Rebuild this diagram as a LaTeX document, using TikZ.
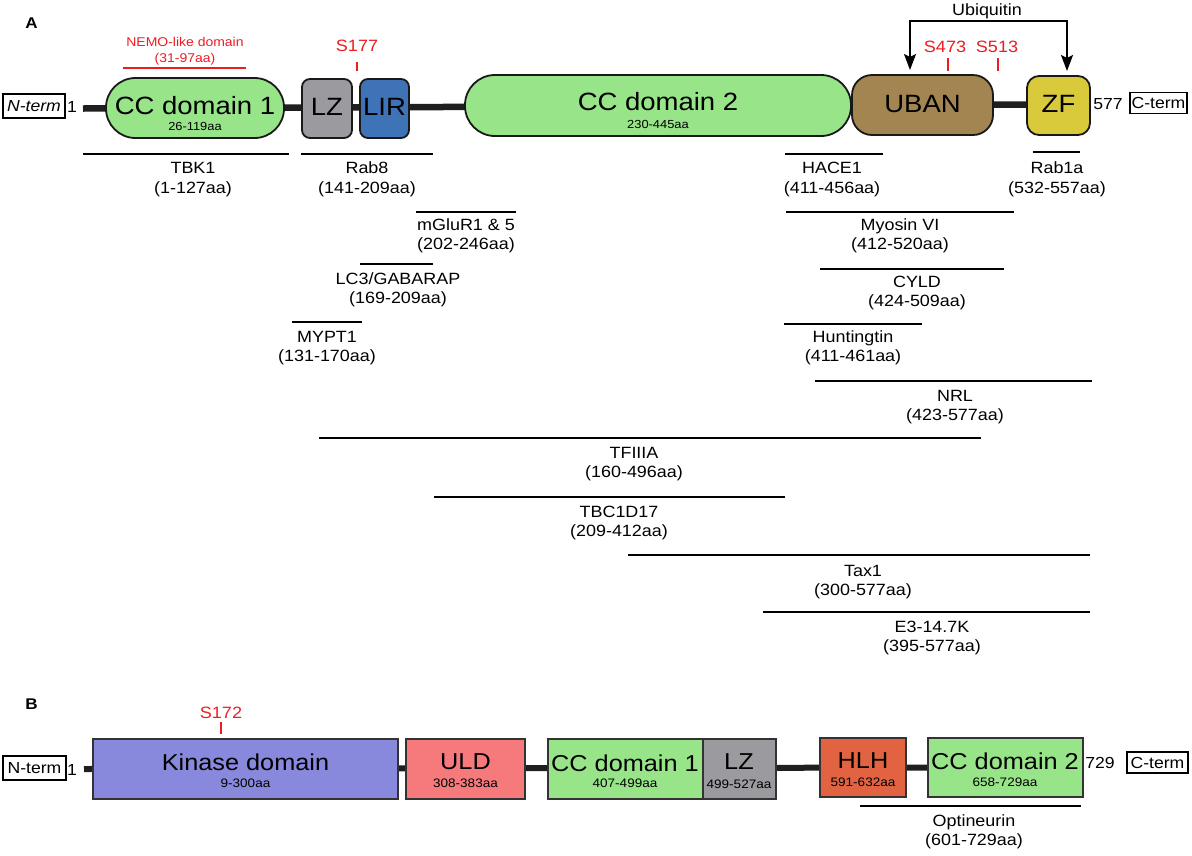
\documentclass[tikz,border=0pt]{standalone}
\usepackage{fontspec}
\setmainfont[FakeStretch=1.1]{Liberation Sans}
\usetikzlibrary{arrows.meta}
\definecolor{ccgreen}{RGB}{152,228,137}
\definecolor{lzgray}{RGB}{154,154,159}
\definecolor{lirblue}{RGB}{63,115,183}
\definecolor{ubanbrown}{RGB}{162,133,80}
\definecolor{zfyellow}{RGB}{216,202,58}
\definecolor{kinblue}{RGB}{136,136,221}
\definecolor{uldred}{RGB}{246,122,124}
\definecolor{hlhred}{RGB}{226,99,66}
\definecolor{sitered}{RGB}{237,28,36}
\newcommand{\domfont}{\fontsize{25}{30}\selectfont}
\newcommand{\bdomfont}{\fontsize{23}{28}\selectfont}
\newcommand{\aafont}{\fontsize{11.7}{14}\selectfont}
\newcommand{\baafont}{\fontsize{12.3}{14}\selectfont}
\newcommand{\ppifont}{\fontsize{16.3}{19.5}\selectfont}
\newcommand{\termfont}{\fontsize{16}{19}\selectfont}
\newcommand{\sitefont}{\fontsize{16.4}{19}\selectfont}
\newcommand{\nemofont}{\fontsize{12.7}{15.75}\selectfont}
\newcommand{\panelfont}{\fontsize{15.5}{18}\selectfont\bfseries}
\tikzset{
%%%%%%%%%% domain boxes
dombox/.style={draw=black!90, line width=1.8pt, inner sep=0pt, outer sep=0pt},
bdombox/.style={draw=black!80, line width=2pt, inner sep=0pt, outer sep=0pt,
                minimum height=60pt},
domtxt/.style={inner sep=0pt, font=\domfont},
bdomtxt/.style={inner sep=0pt, font=\bdomfont},
aatxt/.style={inner sep=0pt, font=\aafont},
baatxt/.style={inner sep=0pt, font=\baafont},
%%%%%%%%%% lines
backbone/.style={line width=6.5pt, draw=black!88},
bbackbone/.style={line width=6pt, draw=black!88},
ppi/.style={line width=2pt},
ubq/.style={line width=2pt},
%%%%%%%%%% texts
ppilabel/.style={align=center, inner sep=0pt, font=\ppifont},
termbox/.style={draw, line width=1.5pt, inner sep=0pt, font=\termfont},
termnum/.style={inner sep=0pt, font=\termfont},
site/.style={text=sitered, inner sep=0pt, font=\sitefont},
sitetick/.style={draw=sitered, line width=2.5pt},
panel/.style={inner sep=0pt, font=\panelfont}
}

\begin{document}
\begin{tikzpicture}[x=1pt, y=-1pt, >={Stealth[length=16pt, width=12pt, inset=3pt]}]
\useasboundingbox (0,0) rectangle (1192,855);
%%%%%%%%%%%%%%%%%%%%%%%%%%%%%%%%%%%%%%%%%%%%%% panel A
\begin{scope}
\node[panel] (pA) at (31.5,23.5) {A};
\node[termbox, minimum width=62pt, minimum height=24pt] (nterm) at (34,106) {\itshape N-term};
\node[termnum] (nfirst) at (72,107) {1};
%% backbone, behind the domains
\coordinate (bbA) at (83,108.5);
\coordinate (bbZ) at (1040,104.5);
\draw[backbone] (bbA) -- (bbZ);
\node[dombox, fill=ccgreen, rounded corners=29.5pt, minimum width=178pt, minimum height=60pt] (cc1) at (195,108) {};
\node[dombox, fill=lzgray, rounded corners=8pt, minimum width=50pt, minimum height=59pt] (lz) at (327,108.5) {};
\node[dombox, fill=lirblue, rounded corners=8pt, minimum width=49pt, minimum height=59pt] (lir) at (384.5,108.5) {};
\node[dombox, fill=ccgreen, rounded corners=30pt, minimum width=386pt, minimum height=61pt] (cc2) at (658,105.5) {};
\node[dombox, fill=ubanbrown, rounded corners=20pt, minimum width=141pt, minimum height=60pt] (uban) at (922.5,105) {};
\node[dombox, fill=zfyellow, rounded corners=12pt, minimum width=63pt, minimum height=59pt] (zf) at (1058.5,105.5) {};
\node[termnum] (nlast) at (1108,104) {577};
\node[termbox, minimum width=57pt, minimum height=21pt] (cterm) at (1158.5,103) {C-term};
%% domain names
\node[domtxt] (cc1name) at ([yshift=2pt]cc1.center) {CC domain 1};
\node[aatxt] (cc1aa) at ([yshift=-18pt]cc1.center) {26-119aa};
\node[domtxt] (lzname) at ([yshift=1.5pt]lz.center) {LZ};
\node[domtxt] (lirname) at ([yshift=1.5pt]lir.center) {LIR};
\node[domtxt] (cc2name) at ([yshift=3.5pt]cc2.center) {CC domain 2};
\node[aatxt] (cc2aa) at ([yshift=-18.5pt]cc2.center) {230-445aa};
\node[domtxt] (ubanname) at ([yshift=1pt]uban.center) {UBAN};
\node[domtxt] (zfname) at ([yshift=1.5pt]zf.center) {ZF};
%% NEMO-like domain and sites
\draw[draw=sitered, line width=2pt] (123,68) -- (246,68);
\node[site, font=\nemofont, align=center] (nemo) at (185,51) {NEMO-like domain\\(31-97aa)};
\node[site] (s177) at (357,46) {S177};
\draw[sitetick] (357,62) -- (357,71);
\node[site] (s473) at (945,47) {S473};
\draw[sitetick] (948,58) -- (948,71);
\node[site] (s513) at (997,47) {S513};
\draw[sitetick] (998,58) -- (998,71);
%% ubiquitin binding
\draw[ubq, <->] ([xshift=-12.5pt, yshift=5pt]uban.north) -- ++(0,-49) -| ([xshift=8.5pt, yshift=5pt]zf.north);
\node[inner sep=0pt, font=\ppifont] (ubqlabel) at (987,11) {Ubiquitin};
%% binding partners, row by row
\draw[ppi] (83,154) -- (289,154);
\node[ppilabel] (tbk1) at (193,179.5) {TBK1\\(1-127aa)};
\draw[ppi] (301,154) -- (433,154);
\node[ppilabel] (rab8) at (367,179.5) {Rab8\\(141-209aa)};
\draw[ppi] (785,154) -- (883,154);
\node[ppilabel] (hace1) at (832,179.5) {HACE1\\(411-456aa)};
\draw[ppi] (1033,152) -- (1080,152);
\node[ppilabel] (rab1a) at (1057,179.5) {Rab1a\\(532-557aa)};
%%
\draw[ppi] (416,212) -- (516,212);
\node[ppilabel] (mglur) at (466,236) {mGluR1 \& 5\\(202-246aa)};
\draw[ppi] (786,212) -- (1014,212);
\node[ppilabel] (myo6) at (900,236) {Myosin VI\\(412-520aa)};
%%
\draw[ppi] (360,264) -- (433,264);
\node[ppilabel] (lc3) at (398,290) {LC3/GABARAP\\(169-209aa)};
\draw[ppi] (820,269) -- (1004,269);
\node[ppilabel] (cyld) at (917,293) {CYLD\\(424-509aa)};
%%
\draw[ppi] (292,322) -- (362,322);
\node[ppilabel] (mypt1) at (327,348) {MYPT1\\(131-170aa)};
\draw[ppi] (784,324) -- (922,324);
\node[ppilabel] (htt) at (853,348) {Huntingtin\\(411-461aa)};
%%
\draw[ppi] (815,381) -- (1092,381);
\node[ppilabel] (nrl) at (955,407) {NRL\\(423-577aa)};
\draw[ppi] (319,438) -- (981,438);
\node[ppilabel] (tf3a) at (634,464) {TFIIIA\\(160-496aa)};
\draw[ppi] (434,497) -- (785,497);
\node[ppilabel] (tbc) at (619,523) {TBC1D17\\(209-412aa)};
\draw[ppi] (628,555) -- (1090,555);
\node[ppilabel] (tax1) at (863,582) {Tax1\\(300-577aa)};
\draw[ppi] (763,612) -- (1090,612);
\node[ppilabel] (e3) at (932,638) {E3-14.7K\\(395-577aa)};
\end{scope}
%%%%%%%%%%%%%%%%%%%%%%%%%%%%%%%%%%%%%%%%%%%%%% panel B
\begin{scope}
\node[panel] (pB) at (31.5,704) {B};
\node[termbox, minimum width=63pt, minimum height=24pt] (bnterm) at (34.5,768) {N-term};
\node[termnum] (bnfirst) at (72,770) {1};
%% backbone, behind the domains
\coordinate (bbB) at (84,769);
\coordinate (bbY) at (940,767.5);
\draw[bbackbone] (bbB) -- (bbY);
\node[bdombox, fill=kinblue, minimum width=305pt] (kin) at (245.5,769) {};
\node[bdombox, fill=uldred, minimum width=119pt] (uld) at (465.5,769) {};
\node[bdombox, fill=ccgreen, minimum width=155pt] (bcc1) at (625,769) {};
\node[bdombox, fill=lzgray, minimum width=73pt] (blz) at (739,769) {};
\node[bdombox, fill=hlhred, minimum width=86pt, minimum height=59pt] (hlh) at (863,767.5) {};
\node[bdombox, fill=ccgreen, minimum width=155pt, minimum height=59pt] (bcc2) at (1005,767.5) {};
\node[termnum] (bnlast) at (1100,763) {729};
\node[termbox, minimum width=61pt, minimum height=21pt] (bcterm) at (1157.5,762.5) {C-term};
%% domain names
\node[bdomtxt] (kinname) at ([yshift=7pt]kin.center) {Kinase domain};
\node[baatxt] (kinaa) at ([yshift=-14pt]kin.center) {9-300aa};
\node[bdomtxt] (uldname) at ([yshift=7pt]uld.center) {ULD};
\node[baatxt] (uldaa) at ([yshift=-14pt]uld.center) {308-383aa};
\node[bdomtxt] (bcc1name) at ([yshift=6pt]bcc1.center) {CC domain 1};
\node[baatxt] (bcc1aa) at ([yshift=-14pt]bcc1.center) {407-499aa};
\node[bdomtxt] (blzname) at ([yshift=7pt]blz.center) {LZ};
\node[baatxt] (blzaa) at ([yshift=-15pt]blz.center) {499-527aa};
\node[bdomtxt] (hlhname) at ([yshift=6.5pt]hlh.center) {HLH};
\node[baatxt] (hlhaa) at ([yshift=-14.5pt]hlh.center) {591-632aa};
\node[bdomtxt] (bcc2name) at ([yshift=6.5pt]bcc2.center) {CC domain 2};
\node[baatxt] (bcc2aa) at ([yshift=-14.5pt]bcc2.center) {658-729aa};
%% site
\node[site] (s172) at (221,713) {S172};
\draw[sitetick] (221,722) -- (221,734);
%% binding partner
\draw[ppi] (860,806) -- (1081,806);
\node[ppilabel] (optn) at (974,832) {Optineurin\\(601-729aa)};
\end{scope}
\end{tikzpicture}
\end{document}
